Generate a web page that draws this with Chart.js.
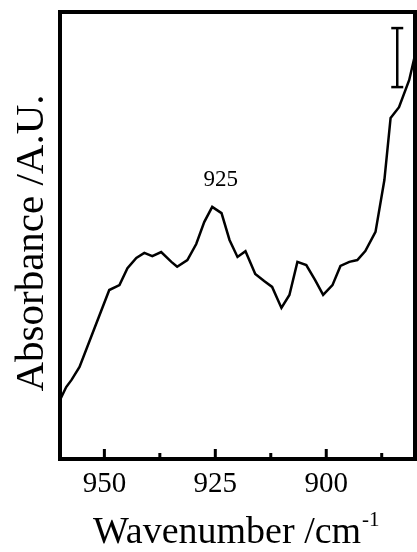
<!DOCTYPE html>
<html>
<head>
<meta charset="utf-8">
<script src="https://cdn.jsdelivr.net/npm/chart.js@4"></script>
<style>
  html, body { margin: 0; padding: 0; background: #fff; }
  #wrap { width: 417px; height: 552px; }
</style>
</head>
<body>
<div id="wrap"><canvas id="chart"></canvas></div>
<script>
// spectrum
const wavenumber = [960.0, 958.6, 957.4, 955.6, 948.9, 946.6, 944.8, 942.8, 941.0, 939.2, 937.2, 934.9, 933.6, 931.3, 929.3, 927.5, 925.7, 923.6, 921.8, 920.0, 918.2, 916.0, 914.0, 912.2, 910.1, 908.3, 906.5, 904.5, 902.5, 900.7, 898.6, 896.8, 894.8, 893.0, 891.2, 888.9, 886.9, 885.5, 883.6, 881.3, 880.0];
const absorbance = [0.132, 0.161, 0.177, 0.206, 0.378, 0.389, 0.427, 0.450, 0.461, 0.454, 0.463, 0.441, 0.430, 0.445, 0.481, 0.530, 0.564, 0.550, 0.490, 0.452, 0.465, 0.414, 0.398, 0.385, 0.338, 0.367, 0.441, 0.434, 0.400, 0.367, 0.389, 0.432, 0.441, 0.445, 0.465, 0.508, 0.624, 0.763, 0.787, 0.848, 0.904];

// scale bar (top right)
const scaleBarX = [884.0, 884.0];
const scaleBarY = [0.964, 0.832];

const xLabels = [950, 925, 900];
const xMinorTicks = [937.5, 912.5, 887.5];
const peakLabel = { x: 923.8, y: 0.61, text: "925" };

const serif = "'Liberation Serif', 'Times New Roman', serif";

const framePlugin = {
    id: "frame",
    afterDatasetsDraw(chart) {
        const { ctx, chartArea: a, scales } = chart;
        const x = scales.x, y = scales.y;
        ctx.save();
        ctx.strokeStyle = "#000";
        ctx.lineWidth = 4;
        ctx.strokeRect(a.left, a.top, a.right - a.left, a.bottom - a.top);

        // inward ticks
        ctx.lineWidth = 3;
        ctx.beginPath();
        xLabels.forEach(v => {
            const px = x.getPixelForValue(v);
            ctx.moveTo(px, a.bottom);
            ctx.lineTo(px, a.bottom - 10);
        });
        xMinorTicks.forEach(v => {
            const px = x.getPixelForValue(v);
            ctx.moveTo(px, a.bottom);
            ctx.lineTo(px, a.bottom - 6);
        });
        ctx.stroke();

        ctx.fillStyle = "#000";
        // peak annotation
        ctx.font = "23px " + serif;
        ctx.textAlign = "center";
        ctx.textBaseline = "alphabetic";
        ctx.fillText(peakLabel.text, x.getPixelForValue(peakLabel.x), y.getPixelForValue(peakLabel.y));

        // x title
        ctx.textAlign = "left";
        ctx.font = "38px " + serif;
        const main = "Wavenumber /cm";
        ctx.fillText(main, 93, 543);
        const w = ctx.measureText(main).width;
        ctx.font = "21px " + serif;
        ctx.fillText("-1", 93 + w + 1, 526);

        // y title
        ctx.translate(43, 243);
        ctx.rotate(-Math.PI / 2);
        ctx.textAlign = "center";
        ctx.font = "41px " + serif;
        ctx.fillText("Absorbance /A.U.", 0, 0);
        ctx.restore();
    }
};

const ctx = document.getElementById("chart").getContext("2d");

new Chart(ctx, {
    type: "line",
    data: {
        datasets: [
            {
                data: wavenumber.map((v, i) => ({ x: v, y: absorbance[i] })),
                borderColor: "#000",
                borderWidth: 2.5,
                pointRadius: 0,
                tension: 0,
                fill: false
            },
            {
                data: scaleBarX.map((v, i) => ({ x: v, y: scaleBarY[i] })),
                borderColor: "#000",
                borderWidth: 2.5,
                pointStyle: "line",
                pointRadius: 6,
                pointBorderWidth: 2.5,
                pointBorderColor: "#000",
                showLine: true
            }
        ]
    },
    options: {
        responsive: true,
        maintainAspectRatio: false,
        animation: false,
        layout: { autoPadding: false, padding: { top: 12, right: 2, left: 0, bottom: 0 } },
        plugins: {
            legend: { display: false },
            tooltip: { enabled: false }
        },
        scales: {
            x: {
                type: "linear",
                min: 880,
                max: 960,
                reverse: true,
                afterBuildTicks: s => { s.ticks = xLabels.map(v => ({ value: v })); },
                afterFit: s => { s.height = 93; s.paddingLeft = 0; s.paddingRight = 0; },
                grid: { display: false },
                border: { display: false },
                ticks: {
                    color: "#000",
                    padding: 0,
                    font: { family: serif, size: 29 }
                }
            },
            y: {
                min: 0,
                max: 1,
                afterFit: s => { s.width = 60; s.paddingTop = 0; s.paddingBottom = 0; },
                grid: { display: false },
                border: { display: false },
                ticks: { display: false }
            }
        }
    },
    plugins: [framePlugin]
});
</script>
</body>
</html>
